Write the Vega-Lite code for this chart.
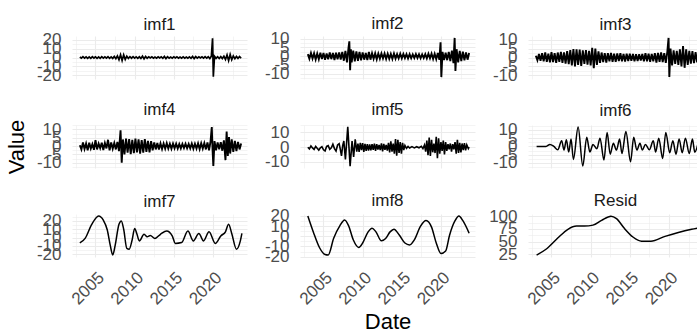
{
"$schema": "https://vega.github.io/schema/vega-lite/v6.json",
"padding": {"left": 5, "top": 14, "right": 0, "bottom": 0},
"bounds": "flush",
"columns": 3,
"spacing": {"row": 46, "column": 53},
"datasets": {"d": [
{"k":"imf1","t":2003.0,"v":0.6},{"k":"imf1","t":2003.2,"v":-0.8},{"k":"imf1","t":2003.4,"v":0.9},{"k":"imf1","t":2003.6,"v":-0.7},{"k":"imf1","t":2003.8,"v":0.8},{"k":"imf1","t":2004.0,"v":-1.0},{"k":"imf1","t":2004.2,"v":0.7},{"k":"imf1","t":2004.4,"v":-0.9},{"k":"imf1","t":2004.6,"v":1.0},{"k":"imf1","t":2004.8,"v":-0.6},{"k":"imf1","t":2005.0,"v":0.8},{"k":"imf1","t":2005.2,"v":-0.9},{"k":"imf1","t":2005.4,"v":0.7},{"k":"imf1","t":2005.6,"v":-1.0},{"k":"imf1","t":2005.8,"v":0.9},{"k":"imf1","t":2006.0,"v":-0.7},{"k":"imf1","t":2006.2,"v":0.8},{"k":"imf1","t":2006.4,"v":-0.8},{"k":"imf1","t":2006.6,"v":1.0},{"k":"imf1","t":2006.8,"v":-0.9},{"k":"imf1","t":2007.0,"v":0.7},{"k":"imf1","t":2007.2,"v":-1.0},{"k":"imf1","t":2007.4,"v":1.2},{"k":"imf1","t":2007.6,"v":-1.4},{"k":"imf1","t":2007.8,"v":1.8},{"k":"imf1","t":2008.0,"v":-2.5},{"k":"imf1","t":2008.2,"v":3.2},{"k":"imf1","t":2008.4,"v":-3.4},{"k":"imf1","t":2008.6,"v":3.0},{"k":"imf1","t":2008.8,"v":-2.2},{"k":"imf1","t":2009.0,"v":1.5},{"k":"imf1","t":2009.2,"v":-1.0},{"k":"imf1","t":2009.4,"v":0.9},{"k":"imf1","t":2009.6,"v":-0.8},{"k":"imf1","t":2009.8,"v":0.9},{"k":"imf1","t":2010.0,"v":-0.8},{"k":"imf1","t":2010.2,"v":0.7},{"k":"imf1","t":2010.4,"v":-0.9},{"k":"imf1","t":2010.6,"v":0.8},{"k":"imf1","t":2010.8,"v":-1.0},{"k":"imf1","t":2011.0,"v":1.5},{"k":"imf1","t":2011.2,"v":-1.6},{"k":"imf1","t":2011.4,"v":1.2},{"k":"imf1","t":2011.6,"v":-0.8},{"k":"imf1","t":2011.8,"v":0.7},{"k":"imf1","t":2012.0,"v":-0.6},{"k":"imf1","t":2012.2,"v":0.7},{"k":"imf1","t":2012.4,"v":-0.8},{"k":"imf1","t":2012.6,"v":0.6},{"k":"imf1","t":2012.8,"v":-0.7},{"k":"imf1","t":2013.0,"v":0.8},{"k":"imf1","t":2013.2,"v":-0.6},{"k":"imf1","t":2013.4,"v":0.7},{"k":"imf1","t":2013.6,"v":-0.9},{"k":"imf1","t":2013.8,"v":1.2},{"k":"imf1","t":2014.0,"v":-1.3},{"k":"imf1","t":2014.2,"v":0.9},{"k":"imf1","t":2014.4,"v":-0.7},{"k":"imf1","t":2014.6,"v":0.6},{"k":"imf1","t":2014.8,"v":-0.7},{"k":"imf1","t":2015.0,"v":0.8},{"k":"imf1","t":2015.2,"v":-0.6},{"k":"imf1","t":2015.4,"v":0.7},{"k":"imf1","t":2015.6,"v":-0.8},{"k":"imf1","t":2015.8,"v":0.6},{"k":"imf1","t":2016.0,"v":-0.7},{"k":"imf1","t":2016.2,"v":0.8},{"k":"imf1","t":2016.4,"v":-0.7},{"k":"imf1","t":2016.6,"v":0.6},{"k":"imf1","t":2016.8,"v":-0.8},{"k":"imf1","t":2017.0,"v":0.7},{"k":"imf1","t":2017.2,"v":-0.9},{"k":"imf1","t":2017.4,"v":1.2},{"k":"imf1","t":2017.6,"v":-1.3},{"k":"imf1","t":2017.8,"v":1.0},{"k":"imf1","t":2018.0,"v":-0.7},{"k":"imf1","t":2018.2,"v":0.8},{"k":"imf1","t":2018.4,"v":-0.6},{"k":"imf1","t":2018.6,"v":0.7},{"k":"imf1","t":2018.8,"v":-0.8},{"k":"imf1","t":2019.0,"v":0.9},{"k":"imf1","t":2019.2,"v":-0.7},{"k":"imf1","t":2019.4,"v":0.8},{"k":"imf1","t":2019.6,"v":-1.2},{"k":"imf1","t":2019.8,"v":1.5},{"k":"imf1","t":2019.95,"v":22},{"k":"imf1","t":2020.05,"v":-22},{"k":"imf1","t":2020.2,"v":1.4},{"k":"imf1","t":2020.4,"v":-1.0},{"k":"imf1","t":2020.6,"v":0.9},{"k":"imf1","t":2020.8,"v":-1.1},{"k":"imf1","t":2021.0,"v":1.0},{"k":"imf1","t":2021.2,"v":-1.2},{"k":"imf1","t":2021.4,"v":1.5},{"k":"imf1","t":2021.6,"v":-2.2},{"k":"imf1","t":2021.8,"v":3.0},{"k":"imf1","t":2022.0,"v":-3.6},{"k":"imf1","t":2022.2,"v":3.4},{"k":"imf1","t":2022.4,"v":-2.6},{"k":"imf1","t":2022.6,"v":1.8},{"k":"imf1","t":2022.8,"v":-1.3},{"k":"imf1","t":2023.0,"v":1.2},{"k":"imf1","t":2023.2,"v":-1.0},{"k":"imf1","t":2023.4,"v":1.1},{"k":"imf1","t":2023.6,"v":-0.9},
{"k":"imf2","t":2003.0,"v":1.2},{"k":"imf2","t":2003.2,"v":-1.5},{"k":"imf2","t":2003.4,"v":1.8},{"k":"imf2","t":2003.6,"v":-1.4},{"k":"imf2","t":2003.8,"v":1.6},{"k":"imf2","t":2004.0,"v":-1.9},{"k":"imf2","t":2004.2,"v":1.5},{"k":"imf2","t":2004.4,"v":-1.7},{"k":"imf2","t":2004.6,"v":2.0},{"k":"imf2","t":2004.8,"v":-1.6},{"k":"imf2","t":2005.0,"v":1.8},{"k":"imf2","t":2005.2,"v":-2.0},{"k":"imf2","t":2005.4,"v":1.6},{"k":"imf2","t":2005.6,"v":-1.8},{"k":"imf2","t":2005.8,"v":2.1},{"k":"imf2","t":2006.0,"v":-1.7},{"k":"imf2","t":2006.2,"v":1.9},{"k":"imf2","t":2006.4,"v":-2.2},{"k":"imf2","t":2006.6,"v":2.0},{"k":"imf2","t":2006.8,"v":-1.8},{"k":"imf2","t":2007.0,"v":2.2},{"k":"imf2","t":2007.2,"v":-2.0},{"k":"imf2","t":2007.4,"v":2.4},{"k":"imf2","t":2007.6,"v":-2.6},{"k":"imf2","t":2007.8,"v":3.0},{"k":"imf2","t":2008.0,"v":-3.5},{"k":"imf2","t":2008.2,"v":5.0},{"k":"imf2","t":2008.3,"v":8.5},{"k":"imf2","t":2008.4,"v":-8.0},{"k":"imf2","t":2008.5,"v":4.0},{"k":"imf2","t":2008.6,"v":-3.5},{"k":"imf2","t":2008.8,"v":3.2},{"k":"imf2","t":2009.0,"v":-3.0},{"k":"imf2","t":2009.2,"v":2.8},{"k":"imf2","t":2009.4,"v":-2.6},{"k":"imf2","t":2009.6,"v":2.5},{"k":"imf2","t":2009.8,"v":-2.4},{"k":"imf2","t":2010.0,"v":2.2},{"k":"imf2","t":2010.2,"v":-2.0},{"k":"imf2","t":2010.4,"v":1.8},{"k":"imf2","t":2010.6,"v":-2.2},{"k":"imf2","t":2010.8,"v":2.4},{"k":"imf2","t":2011.0,"v":-2.0},{"k":"imf2","t":2011.2,"v":1.7},{"k":"imf2","t":2011.4,"v":-1.5},{"k":"imf2","t":2011.6,"v":1.6},{"k":"imf2","t":2011.8,"v":-1.8},{"k":"imf2","t":2012.0,"v":1.5},{"k":"imf2","t":2012.2,"v":-1.4},{"k":"imf2","t":2012.4,"v":1.6},{"k":"imf2","t":2012.6,"v":-1.3},{"k":"imf2","t":2012.8,"v":1.5},{"k":"imf2","t":2013.0,"v":-1.6},{"k":"imf2","t":2013.2,"v":1.4},{"k":"imf2","t":2013.4,"v":-1.5},{"k":"imf2","t":2013.6,"v":1.3},{"k":"imf2","t":2013.8,"v":-1.6},{"k":"imf2","t":2014.0,"v":1.5},{"k":"imf2","t":2014.2,"v":-1.4},{"k":"imf2","t":2014.4,"v":1.2},{"k":"imf2","t":2014.6,"v":-1.3},{"k":"imf2","t":2014.8,"v":1.4},{"k":"imf2","t":2015.0,"v":-1.2},{"k":"imf2","t":2015.2,"v":1.3},{"k":"imf2","t":2015.4,"v":-1.1},{"k":"imf2","t":2015.6,"v":1.2},{"k":"imf2","t":2015.8,"v":-1.3},{"k":"imf2","t":2016.0,"v":1.1},{"k":"imf2","t":2016.2,"v":-1.2},{"k":"imf2","t":2016.4,"v":1.0},{"k":"imf2","t":2016.6,"v":-1.1},{"k":"imf2","t":2016.8,"v":1.2},{"k":"imf2","t":2017.0,"v":-1.0},{"k":"imf2","t":2017.2,"v":1.1},{"k":"imf2","t":2017.4,"v":-1.2},{"k":"imf2","t":2017.6,"v":1.0},{"k":"imf2","t":2017.8,"v":-1.1},{"k":"imf2","t":2018.0,"v":1.2},{"k":"imf2","t":2018.2,"v":-1.3},{"k":"imf2","t":2018.4,"v":1.4},{"k":"imf2","t":2018.6,"v":-1.2},{"k":"imf2","t":2018.8,"v":1.5},{"k":"imf2","t":2019.0,"v":-1.6},{"k":"imf2","t":2019.2,"v":1.4},{"k":"imf2","t":2019.4,"v":-1.7},{"k":"imf2","t":2019.6,"v":1.8},{"k":"imf2","t":2019.8,"v":-2.0},{"k":"imf2","t":2019.95,"v":8.0},{"k":"imf2","t":2020.05,"v":-12.0},{"k":"imf2","t":2020.2,"v":2.5},{"k":"imf2","t":2020.4,"v":-2.2},{"k":"imf2","t":2020.6,"v":2.0},{"k":"imf2","t":2020.8,"v":-2.3},{"k":"imf2","t":2021.0,"v":2.5},{"k":"imf2","t":2021.2,"v":-2.8},{"k":"imf2","t":2021.4,"v":3.2},{"k":"imf2","t":2021.6,"v":-4.0},{"k":"imf2","t":2021.75,"v":10.5},{"k":"imf2","t":2021.85,"v":-8.5},{"k":"imf2","t":2022.0,"v":4.0},{"k":"imf2","t":2022.2,"v":-3.5},{"k":"imf2","t":2022.4,"v":3.0},{"k":"imf2","t":2022.6,"v":-2.8},{"k":"imf2","t":2022.8,"v":2.6},{"k":"imf2","t":2023.0,"v":-2.4},{"k":"imf2","t":2023.2,"v":2.2},{"k":"imf2","t":2023.4,"v":-2.0},{"k":"imf2","t":2023.6,"v":1.8},
{"k":"imf3","t":2003.0,"v":1.0},{"k":"imf3","t":2003.2,"v":-1.5},{"k":"imf3","t":2003.4,"v":2.0},{"k":"imf3","t":2003.6,"v":-1.8},{"k":"imf3","t":2003.8,"v":2.4},{"k":"imf3","t":2004.0,"v":-2.2},{"k":"imf3","t":2004.2,"v":2.8},{"k":"imf3","t":2004.4,"v":-2.5},{"k":"imf3","t":2004.6,"v":2.2},{"k":"imf3","t":2004.8,"v":-2.7},{"k":"imf3","t":2005.0,"v":3.0},{"k":"imf3","t":2005.2,"v":-2.6},{"k":"imf3","t":2005.4,"v":2.4},{"k":"imf3","t":2005.6,"v":-3.0},{"k":"imf3","t":2005.8,"v":2.8},{"k":"imf3","t":2006.0,"v":-2.5},{"k":"imf3","t":2006.2,"v":3.2},{"k":"imf3","t":2006.4,"v":-3.0},{"k":"imf3","t":2006.6,"v":2.9},{"k":"imf3","t":2006.8,"v":-3.4},{"k":"imf3","t":2007.0,"v":3.6},{"k":"imf3","t":2007.2,"v":-3.8},{"k":"imf3","t":2007.4,"v":4.2},{"k":"imf3","t":2007.6,"v":-4.5},{"k":"imf3","t":2007.8,"v":4.8},{"k":"imf3","t":2008.0,"v":-5.0},{"k":"imf3","t":2008.2,"v":4.6},{"k":"imf3","t":2008.4,"v":-4.2},{"k":"imf3","t":2008.6,"v":4.5},{"k":"imf3","t":2008.8,"v":-4.8},{"k":"imf3","t":2009.0,"v":4.0},{"k":"imf3","t":2009.2,"v":-3.6},{"k":"imf3","t":2009.4,"v":4.2},{"k":"imf3","t":2009.6,"v":-4.0},{"k":"imf3","t":2009.8,"v":3.8},{"k":"imf3","t":2010.0,"v":-4.4},{"k":"imf3","t":2010.2,"v":5.5},{"k":"imf3","t":2010.4,"v":-6.0},{"k":"imf3","t":2010.6,"v":5.0},{"k":"imf3","t":2010.8,"v":-4.2},{"k":"imf3","t":2011.0,"v":3.5},{"k":"imf3","t":2011.2,"v":-3.0},{"k":"imf3","t":2011.4,"v":2.8},{"k":"imf3","t":2011.6,"v":-2.6},{"k":"imf3","t":2011.8,"v":2.5},{"k":"imf3","t":2012.0,"v":-2.8},{"k":"imf3","t":2012.2,"v":2.4},{"k":"imf3","t":2012.4,"v":-2.2},{"k":"imf3","t":2012.6,"v":2.6},{"k":"imf3","t":2012.8,"v":-2.4},{"k":"imf3","t":2013.0,"v":2.2},{"k":"imf3","t":2013.2,"v":-2.5},{"k":"imf3","t":2013.4,"v":2.3},{"k":"imf3","t":2013.6,"v":-2.0},{"k":"imf3","t":2013.8,"v":2.4},{"k":"imf3","t":2014.0,"v":-2.2},{"k":"imf3","t":2014.2,"v":2.0},{"k":"imf3","t":2014.4,"v":-2.3},{"k":"imf3","t":2014.6,"v":2.1},{"k":"imf3","t":2014.8,"v":-2.0},{"k":"imf3","t":2015.0,"v":2.2},{"k":"imf3","t":2015.2,"v":-1.9},{"k":"imf3","t":2015.4,"v":2.0},{"k":"imf3","t":2015.6,"v":-2.1},{"k":"imf3","t":2015.8,"v":1.8},{"k":"imf3","t":2016.0,"v":-2.0},{"k":"imf3","t":2016.2,"v":1.9},{"k":"imf3","t":2016.4,"v":-1.7},{"k":"imf3","t":2016.6,"v":2.0},{"k":"imf3","t":2016.8,"v":-2.2},{"k":"imf3","t":2017.0,"v":2.4},{"k":"imf3","t":2017.2,"v":-2.1},{"k":"imf3","t":2017.4,"v":2.2},{"k":"imf3","t":2017.6,"v":-2.4},{"k":"imf3","t":2017.8,"v":2.0},{"k":"imf3","t":2018.0,"v":-2.2},{"k":"imf3","t":2018.2,"v":2.5},{"k":"imf3","t":2018.4,"v":-2.8},{"k":"imf3","t":2018.6,"v":2.6},{"k":"imf3","t":2018.8,"v":-2.4},{"k":"imf3","t":2019.0,"v":2.8},{"k":"imf3","t":2019.2,"v":-2.6},{"k":"imf3","t":2019.4,"v":2.4},{"k":"imf3","t":2019.6,"v":-3.0},{"k":"imf3","t":2019.8,"v":3.5},{"k":"imf3","t":2019.95,"v":11.0},{"k":"imf3","t":2020.05,"v":-11.0},{"k":"imf3","t":2020.2,"v":5.0},{"k":"imf3","t":2020.4,"v":-4.5},{"k":"imf3","t":2020.6,"v":4.0},{"k":"imf3","t":2020.8,"v":-3.6},{"k":"imf3","t":2021.0,"v":3.8},{"k":"imf3","t":2021.2,"v":-4.2},{"k":"imf3","t":2021.4,"v":4.6},{"k":"imf3","t":2021.6,"v":-5.0},{"k":"imf3","t":2021.8,"v":6.5},{"k":"imf3","t":2022.0,"v":-5.8},{"k":"imf3","t":2022.2,"v":4.6},{"k":"imf3","t":2022.4,"v":-4.2},{"k":"imf3","t":2022.6,"v":3.8},{"k":"imf3","t":2022.8,"v":-3.5},{"k":"imf3","t":2023.0,"v":3.6},{"k":"imf3","t":2023.2,"v":-3.2},{"k":"imf3","t":2023.4,"v":3.0},{"k":"imf3","t":2023.6,"v":-2.8},
{"k":"imf4","t":2003.0,"v":0.5},{"k":"imf4","t":2003.2,"v":-2.0},{"k":"imf4","t":2003.4,"v":2.2},{"k":"imf4","t":2003.6,"v":-1.8},{"k":"imf4","t":2003.8,"v":1.5},{"k":"imf4","t":2004.0,"v":-2.5},{"k":"imf4","t":2004.2,"v":2.0},{"k":"imf4","t":2004.4,"v":-1.5},{"k":"imf4","t":2004.6,"v":1.2},{"k":"imf4","t":2004.8,"v":-2.2},{"k":"imf4","t":2005.0,"v":3.5},{"k":"imf4","t":2005.2,"v":-2.0},{"k":"imf4","t":2005.4,"v":1.5},{"k":"imf4","t":2005.6,"v":-1.2},{"k":"imf4","t":2005.8,"v":2.0},{"k":"imf4","t":2006.0,"v":-2.4},{"k":"imf4","t":2006.2,"v":1.8},{"k":"imf4","t":2006.4,"v":-1.4},{"k":"imf4","t":2006.6,"v":3.8},{"k":"imf4","t":2006.8,"v":-2.6},{"k":"imf4","t":2007.0,"v":2.2},{"k":"imf4","t":2007.2,"v":-1.6},{"k":"imf4","t":2007.4,"v":1.8},{"k":"imf4","t":2007.6,"v":-2.0},{"k":"imf4","t":2007.8,"v":2.5},{"k":"imf4","t":2008.0,"v":-3.0},{"k":"imf4","t":2008.2,"v":9.5},{"k":"imf4","t":2008.35,"v":-10.0},{"k":"imf4","t":2008.5,"v":4.0},{"k":"imf4","t":2008.7,"v":-5.0},{"k":"imf4","t":2008.9,"v":4.5},{"k":"imf4","t":2009.1,"v":-4.0},{"k":"imf4","t":2009.3,"v":4.2},{"k":"imf4","t":2009.5,"v":-4.8},{"k":"imf4","t":2009.7,"v":3.8},{"k":"imf4","t":2009.9,"v":-4.2},{"k":"imf4","t":2010.1,"v":4.5},{"k":"imf4","t":2010.3,"v":-3.8},{"k":"imf4","t":2010.5,"v":4.0},{"k":"imf4","t":2010.7,"v":-4.6},{"k":"imf4","t":2010.9,"v":3.6},{"k":"imf4","t":2011.1,"v":-4.0},{"k":"imf4","t":2011.3,"v":4.2},{"k":"imf4","t":2011.5,"v":-3.5},{"k":"imf4","t":2011.7,"v":3.2},{"k":"imf4","t":2011.9,"v":-3.8},{"k":"imf4","t":2012.1,"v":3.0},{"k":"imf4","t":2012.3,"v":-2.6},{"k":"imf4","t":2012.5,"v":2.2},{"k":"imf4","t":2012.7,"v":-2.0},{"k":"imf4","t":2012.9,"v":1.8},{"k":"imf4","t":2013.1,"v":-2.0},{"k":"imf4","t":2013.3,"v":1.6},{"k":"imf4","t":2013.5,"v":-1.8},{"k":"imf4","t":2013.7,"v":1.5},{"k":"imf4","t":2013.9,"v":-1.6},{"k":"imf4","t":2014.1,"v":1.7},{"k":"imf4","t":2014.3,"v":-1.5},{"k":"imf4","t":2014.5,"v":1.4},{"k":"imf4","t":2014.7,"v":-1.6},{"k":"imf4","t":2014.9,"v":1.5},{"k":"imf4","t":2015.1,"v":-1.3},{"k":"imf4","t":2015.3,"v":1.4},{"k":"imf4","t":2015.5,"v":-1.5},{"k":"imf4","t":2015.7,"v":1.2},{"k":"imf4","t":2015.9,"v":-1.4},{"k":"imf4","t":2016.1,"v":1.3},{"k":"imf4","t":2016.3,"v":-1.2},{"k":"imf4","t":2016.5,"v":1.4},{"k":"imf4","t":2016.7,"v":-1.3},{"k":"imf4","t":2016.9,"v":1.2},{"k":"imf4","t":2017.1,"v":-1.4},{"k":"imf4","t":2017.3,"v":1.5},{"k":"imf4","t":2017.5,"v":-1.6},{"k":"imf4","t":2017.7,"v":1.4},{"k":"imf4","t":2017.9,"v":-1.5},{"k":"imf4","t":2018.1,"v":1.6},{"k":"imf4","t":2018.3,"v":-1.8},{"k":"imf4","t":2018.5,"v":1.7},{"k":"imf4","t":2018.7,"v":-1.5},{"k":"imf4","t":2018.9,"v":1.8},{"k":"imf4","t":2019.1,"v":-2.0},{"k":"imf4","t":2019.3,"v":2.2},{"k":"imf4","t":2019.5,"v":-2.5},{"k":"imf4","t":2019.7,"v":3.0},{"k":"imf4","t":2019.85,"v":11.5},{"k":"imf4","t":2019.95,"v":-2.0},{"k":"imf4","t":2020.05,"v":-12.0},{"k":"imf4","t":2020.2,"v":3.0},{"k":"imf4","t":2020.4,"v":-2.5},{"k":"imf4","t":2020.6,"v":2.2},{"k":"imf4","t":2020.8,"v":-2.0},{"k":"imf4","t":2021.0,"v":2.4},{"k":"imf4","t":2021.2,"v":-2.8},{"k":"imf4","t":2021.4,"v":3.5},{"k":"imf4","t":2021.6,"v":-8.5},{"k":"imf4","t":2021.75,"v":8.8},{"k":"imf4","t":2021.9,"v":-6.0},{"k":"imf4","t":2022.05,"v":5.5},{"k":"imf4","t":2022.2,"v":-4.5},{"k":"imf4","t":2022.4,"v":4.0},{"k":"imf4","t":2022.6,"v":-3.5},{"k":"imf4","t":2022.8,"v":3.2},{"k":"imf4","t":2023.0,"v":-3.0},{"k":"imf4","t":2023.2,"v":2.5},{"k":"imf4","t":2023.4,"v":-2.0},{"k":"imf4","t":2023.6,"v":1.5},
{"k":"imf5","t":2003.0,"v":0.0},{"k":"imf5","t":2003.2,"v":-1.2},{"k":"imf5","t":2003.4,"v":0.8},{"k":"imf5","t":2003.6,"v":-0.5},{"k":"imf5","t":2003.8,"v":-1.5},{"k":"imf5","t":2004.0,"v":0.5},{"k":"imf5","t":2004.2,"v":-0.8},{"k":"imf5","t":2004.4,"v":-2.0},{"k":"imf5","t":2004.6,"v":-0.5},{"k":"imf5","t":2004.8,"v":0.3},{"k":"imf5","t":2005.0,"v":-1.8},{"k":"imf5","t":2005.2,"v":-2.6},{"k":"imf5","t":2005.4,"v":0.5},{"k":"imf5","t":2005.6,"v":1.0},{"k":"imf5","t":2005.8,"v":-1.5},{"k":"imf5","t":2006.0,"v":-0.5},{"k":"imf5","t":2006.2,"v":2.0},{"k":"imf5","t":2006.4,"v":-1.0},{"k":"imf5","t":2006.6,"v":-2.6},{"k":"imf5","t":2006.8,"v":1.5},{"k":"imf5","t":2007.0,"v":2.4},{"k":"imf5","t":2007.15,"v":-1.5},{"k":"imf5","t":2007.3,"v":-6.0},{"k":"imf5","t":2007.45,"v":1.0},{"k":"imf5","t":2007.6,"v":4.2},{"k":"imf5","t":2007.8,"v":-8.3},{"k":"imf5","t":2008.1,"v":13.8},{"k":"imf5","t":2008.4,"v":-12.9},{"k":"imf5","t":2008.65,"v":4.2},{"k":"imf5","t":2008.85,"v":-6.7},{"k":"imf5","t":2009.05,"v":5.4},{"k":"imf5","t":2009.25,"v":-3.0},{"k":"imf5","t":2009.4,"v":2.5},{"k":"imf5","t":2009.55,"v":-3.2},{"k":"imf5","t":2009.7,"v":3.0},{"k":"imf5","t":2009.85,"v":-2.0},{"k":"imf5","t":2010.0,"v":2.8},{"k":"imf5","t":2010.15,"v":-3.2},{"k":"imf5","t":2010.3,"v":2.2},{"k":"imf5","t":2010.45,"v":-2.6},{"k":"imf5","t":2010.6,"v":2.0},{"k":"imf5","t":2010.75,"v":-2.4},{"k":"imf5","t":2010.9,"v":1.8},{"k":"imf5","t":2011.05,"v":-2.2},{"k":"imf5","t":2011.2,"v":2.0},{"k":"imf5","t":2011.35,"v":-1.8},{"k":"imf5","t":2011.5,"v":2.4},{"k":"imf5","t":2011.65,"v":-2.6},{"k":"imf5","t":2011.8,"v":2.0},{"k":"imf5","t":2011.95,"v":-1.6},{"k":"imf5","t":2012.1,"v":1.5},{"k":"imf5","t":2012.25,"v":-2.0},{"k":"imf5","t":2012.4,"v":2.6},{"k":"imf5","t":2012.55,"v":-2.8},{"k":"imf5","t":2012.7,"v":2.2},{"k":"imf5","t":2012.85,"v":-1.8},{"k":"imf5","t":2013.0,"v":1.6},{"k":"imf5","t":2013.15,"v":-2.4},{"k":"imf5","t":2013.3,"v":3.0},{"k":"imf5","t":2013.45,"v":-3.5},{"k":"imf5","t":2013.6,"v":4.0},{"k":"imf5","t":2013.75,"v":-3.0},{"k":"imf5","t":2013.9,"v":2.5},{"k":"imf5","t":2014.05,"v":-4.5},{"k":"imf5","t":2014.2,"v":5.5},{"k":"imf5","t":2014.35,"v":-5.8},{"k":"imf5","t":2014.5,"v":5.0},{"k":"imf5","t":2014.65,"v":-4.0},{"k":"imf5","t":2014.8,"v":3.5},{"k":"imf5","t":2014.95,"v":-4.5},{"k":"imf5","t":2015.1,"v":3.0},{"k":"imf5","t":2015.25,"v":-2.0},{"k":"imf5","t":2015.4,"v":1.2},{"k":"imf5","t":2015.6,"v":-0.8},{"k":"imf5","t":2015.8,"v":0.5},{"k":"imf5","t":2016.0,"v":-0.6},{"k":"imf5","t":2016.3,"v":0.4},{"k":"imf5","t":2016.6,"v":-0.5},{"k":"imf5","t":2016.9,"v":0.3},{"k":"imf5","t":2017.2,"v":-0.4},{"k":"imf5","t":2017.5,"v":0.6},{"k":"imf5","t":2017.7,"v":-1.0},{"k":"imf5","t":2017.9,"v":1.5},{"k":"imf5","t":2018.05,"v":-3.0},{"k":"imf5","t":2018.2,"v":4.5},{"k":"imf5","t":2018.35,"v":-5.5},{"k":"imf5","t":2018.5,"v":6.5},{"k":"imf5","t":2018.65,"v":-6.0},{"k":"imf5","t":2018.8,"v":5.0},{"k":"imf5","t":2018.95,"v":-3.5},{"k":"imf5","t":2019.1,"v":2.5},{"k":"imf5","t":2019.25,"v":-4.0},{"k":"imf5","t":2019.4,"v":7.0},{"k":"imf5","t":2019.55,"v":-7.5},{"k":"imf5","t":2019.7,"v":6.0},{"k":"imf5","t":2019.85,"v":-4.5},{"k":"imf5","t":2020.0,"v":3.5},{"k":"imf5","t":2020.15,"v":-2.5},{"k":"imf5","t":2020.3,"v":4.5},{"k":"imf5","t":2020.45,"v":-5.0},{"k":"imf5","t":2020.6,"v":3.5},{"k":"imf5","t":2020.75,"v":-2.5},{"k":"imf5","t":2020.9,"v":2.0},{"k":"imf5","t":2021.05,"v":-1.5},{"k":"imf5","t":2021.2,"v":2.5},{"k":"imf5","t":2021.35,"v":-3.0},{"k":"imf5","t":2021.5,"v":2.0},{"k":"imf5","t":2021.65,"v":-1.5},{"k":"imf5","t":2021.8,"v":3.5},{"k":"imf5","t":2021.95,"v":-4.5},{"k":"imf5","t":2022.1,"v":5.0},{"k":"imf5","t":2022.25,"v":-4.0},{"k":"imf5","t":2022.4,"v":3.0},{"k":"imf5","t":2022.55,"v":-3.5},{"k":"imf5","t":2022.7,"v":2.5},{"k":"imf5","t":2022.85,"v":-2.0},{"k":"imf5","t":2023.0,"v":2.8},{"k":"imf5","t":2023.15,"v":-2.2},{"k":"imf5","t":2023.3,"v":1.5},{"k":"imf5","t":2023.5,"v":-1.0},{"k":"imf5","t":2023.6,"v":0.0},
{"k":"imf6","t":2003.1,"v":0},{"k":"imf6","t":2004.3,"v":0},{"k":"imf6","t":2004.8,"v":1.2},{"k":"imf6","t":2005.3,"v":0},{"k":"imf6","t":2005.8,"v":-2},{"k":"imf6","t":2006.3,"v":3.5},{"k":"imf6","t":2006.6,"v":-2.2},{"k":"imf6","t":2006.9,"v":4},{"k":"imf6","t":2007.2,"v":-3.4},{"k":"imf6","t":2007.5,"v":4.5},{"k":"imf6","t":2007.8,"v":-7.9},{"k":"imf6","t":2008.4,"v":11.8},{"k":"imf6","t":2009.0,"v":-11.9},{"k":"imf6","t":2009.5,"v":5.5},{"k":"imf6","t":2009.9,"v":-3.4},{"k":"imf6","t":2010.3,"v":1.2},{"k":"imf6","t":2010.8,"v":-1.4},{"k":"imf6","t":2011.2,"v":5},{"k":"imf6","t":2011.7,"v":-8.3},{"k":"imf6","t":2012.1,"v":8.5},{"k":"imf6","t":2012.5,"v":-4.7},{"k":"imf6","t":2012.9,"v":1.9},{"k":"imf6","t":2013.3,"v":-2.2},{"k":"imf6","t":2013.7,"v":4.5},{"k":"imf6","t":2014.0,"v":-4.3},{"k":"imf6","t":2014.5,"v":9},{"k":"imf6","t":2015.1,"v":-9.3},{"k":"imf6","t":2015.5,"v":5.5},{"k":"imf6","t":2015.9,"v":-2.2},{"k":"imf6","t":2016.3,"v":1.9},{"k":"imf6","t":2016.6,"v":-2.2},{"k":"imf6","t":2017.0,"v":1.2},{"k":"imf6","t":2017.5,"v":-2},{"k":"imf6","t":2018.0,"v":3.5},{"k":"imf6","t":2018.3,"v":-3.4},{"k":"imf6","t":2018.7,"v":5},{"k":"imf6","t":2019.2,"v":-7.3},{"k":"imf6","t":2019.6,"v":8.5},{"k":"imf6","t":2020.1,"v":-3.9},{"k":"imf6","t":2020.5,"v":3.5},{"k":"imf6","t":2020.9,"v":-4.7},{"k":"imf6","t":2021.3,"v":4.5},{"k":"imf6","t":2021.7,"v":-3.9},{"k":"imf6","t":2022.1,"v":5},{"k":"imf6","t":2022.6,"v":-4.3},{"k":"imf6","t":2023.0,"v":4.5},{"k":"imf6","t":2023.3,"v":-3.5},{"k":"imf6","t":2023.7,"v":1.5},
{"k":"imf7","t":2003.0,"v":-6.5},{"k":"imf7","t":2003.7,"v":-0.6},{"k":"imf7","t":2004.5,"v":15.5},{"k":"imf7","t":2005.4,"v":26},{"k":"imf7","t":2006.0,"v":21},{"k":"imf7","t":2006.5,"v":9.4},{"k":"imf7","t":2006.9,"v":-10},{"k":"imf7","t":2007.2,"v":-21},{"k":"imf7","t":2007.5,"v":-10},{"k":"imf7","t":2008.0,"v":16},{"k":"imf7","t":2008.3,"v":20},{"k":"imf7","t":2008.6,"v":10},{"k":"imf7","t":2009.0,"v":-13},{"k":"imf7","t":2009.3,"v":-14},{"k":"imf7","t":2009.7,"v":-2},{"k":"imf7","t":2010.0,"v":11},{"k":"imf7","t":2010.3,"v":4},{"k":"imf7","t":2010.6,"v":-4},{"k":"imf7","t":2011.2,"v":4},{"k":"imf7","t":2011.6,"v":1},{"k":"imf7","t":2012.0,"v":2.5},{"k":"imf7","t":2012.6,"v":-1},{"k":"imf7","t":2013.3,"v":4},{"k":"imf7","t":2014.1,"v":8},{"k":"imf7","t":2014.8,"v":2},{"k":"imf7","t":2015.2,"v":-7},{"k":"imf7","t":2016.0,"v":-6},{"k":"imf7","t":2016.8,"v":8},{"k":"imf7","t":2017.5,"v":-4},{"k":"imf7","t":2018.2,"v":5},{"k":"imf7","t":2018.8,"v":-4},{"k":"imf7","t":2019.5,"v":7},{"k":"imf7","t":2020.3,"v":-7},{"k":"imf7","t":2021.0,"v":2},{"k":"imf7","t":2021.6,"v":7},{"k":"imf7","t":2022.0,"v":16},{"k":"imf7","t":2022.4,"v":5},{"k":"imf7","t":2023.0,"v":-14},{"k":"imf7","t":2023.5,"v":-4},{"k":"imf7","t":2023.7,"v":5},
{"k":"imf8","t":2003.0,"v":20},{"k":"imf8","t":2003.7,"v":4.3},{"k":"imf8","t":2004.5,"v":-11.3},{"k":"imf8","t":2005.2,"v":-18},{"k":"imf8","t":2005.6,"v":-18.5},{"k":"imf8","t":2006.3,"v":-2},{"k":"imf8","t":2007.1,"v":10.5},{"k":"imf8","t":2007.7,"v":16},{"k":"imf8","t":2008.2,"v":10.5},{"k":"imf8","t":2008.8,"v":-3.5},{"k":"imf8","t":2009.5,"v":-11},{"k":"imf8","t":2010.0,"v":-6.6},{"k":"imf8","t":2010.7,"v":4.3},{"k":"imf8","t":2011.2,"v":8},{"k":"imf8","t":2011.7,"v":4.3},{"k":"imf8","t":2012.4,"v":-4.5},{"k":"imf8","t":2012.9,"v":-2.5},{"k":"imf8","t":2013.5,"v":4.3},{"k":"imf8","t":2014.0,"v":7},{"k":"imf8","t":2014.7,"v":1},{"k":"imf8","t":2015.4,"v":-6.6},{"k":"imf8","t":2016.0,"v":-8.5},{"k":"imf8","t":2016.6,"v":-3.5},{"k":"imf8","t":2017.4,"v":10},{"k":"imf8","t":2018.1,"v":15.5},{"k":"imf8","t":2018.8,"v":9},{"k":"imf8","t":2019.4,"v":-6.6},{"k":"imf8","t":2020.0,"v":-17},{"k":"imf8","t":2020.6,"v":-14.5},{"k":"imf8","t":2021.1,"v":1},{"k":"imf8","t":2021.8,"v":15.3},{"k":"imf8","t":2022.3,"v":20},{"k":"imf8","t":2022.8,"v":15.3},{"k":"imf8","t":2023.6,"v":3},
{"k":"Resid","t":2003.1,"v":23},{"k":"Resid","t":2004.3,"v":34.6},{"k":"Resid","t":2005.8,"v":57},{"k":"Resid","t":2007.1,"v":74.4},{"k":"Resid","t":2008.2,"v":80.8},{"k":"Resid","t":2009.2,"v":80.8},{"k":"Resid","t":2010.3,"v":82.7},{"k":"Resid","t":2011.4,"v":92.3},{"k":"Resid","t":2012.6,"v":100.5},{"k":"Resid","t":2013.3,"v":95.5},{"k":"Resid","t":2014.3,"v":76.3},{"k":"Resid","t":2015.4,"v":59},{"k":"Resid","t":2016.5,"v":50.6},{"k":"Resid","t":2017.7,"v":50.6},{"k":"Resid","t":2019.5,"v":60.3},{"k":"Resid","t":2021.2,"v":68},{"k":"Resid","t":2022.9,"v":74.4},{"k":"Resid","t":2023.7,"v":77}
]},
"data": {"name": "d"},
"config": {
  "view": {"stroke": null},
  "title": {"font": "Liberation Sans", "fontSize": 17, "fontWeight": "normal", "color": "#1a1a1a", "anchor": "middle", "frame": "group", "baseline": "alphabetic", "offset": -3},
  "axis": {"domain": false, "ticks": false, "gridColor": "#ebebeb", "labelFont": "Liberation Sans", "labelFontSize": 17, "labelColor": "#4d4d4d", "labelOverlap": false, "labelFlush": false, "labelBound": false, "titleFont": "Liberation Sans", "titleFontSize": 22, "titleFontWeight": "normal", "titleColor": "#000000"},
  "axisY": {"labelPadding": 11, "titlePadding": 8},
  "axisX": {"labelPadding": 12, "labelAngle": -45, "labelAlign": "right", "labelBaseline": "top", "titlePadding": 4},
  "line": {"color": "#000000", "strokeWidth": 1.5}
},
"concat": [
  {"title": "imf1", "width": 175, "height": 43, "transform": [{"filter": "datum.k == 'imf1'"}], "mark": {"type": "line", "strokeWidth": 1.7},
   "encoding": {
    "x": {"field": "t", "type": "quantitative", "scale": {"domain": [2002, 2024.35], "nice": false, "zero": false}, "axis": {"values": [2002.5,2005,2007.5,2010,2012.5,2015,2017.5,2020,2022.5], "labels": false, "title": null, "gridWidth": {"condition": {"test": "datum.value % 5 == 0", "value": 1.1}, "value": 0.55}}},
    "y": {"field": "v", "type": "quantitative", "scale": {"domain": [-24.5, 24.5], "nice": false, "zero": false}, "axis": {"values": [-20,-15,-10,-5,0,5,10,15,20], "labelExpr": "datum.value % 10 == 0 ? '' + datum.value : ''", "title": null, "gridWidth": {"condition": {"test": "datum.value % 10 == 0", "value": 1.1}, "value": 0.55}}}}},
  {"title": "imf2", "width": 175, "height": 43, "transform": [{"filter": "datum.k == 'imf2'"}], "mark": {"type": "line", "strokeWidth": 1.9},
   "encoding": {
    "x": {"field": "t", "type": "quantitative", "scale": {"domain": [2002, 2024.35], "nice": false, "zero": false}, "axis": {"values": [2002.5,2005,2007.5,2010,2012.5,2015,2017.5,2020,2022.5], "labels": false, "title": null, "gridWidth": {"condition": {"test": "datum.value % 5 == 0", "value": 1.1}, "value": 0.55}}},
    "y": {"field": "v", "type": "quantitative", "scale": {"domain": [-13.1, 11.6], "nice": false, "zero": false}, "axis": {"values": [-12.5,-10,-7.5,-5,-2.5,0,2.5,5,7.5,10], "labelExpr": "datum.value % 5 == 0 ? '' + datum.value : ''", "title": null, "gridWidth": {"condition": {"test": "datum.value % 5 == 0", "value": 1.1}, "value": 0.55}}}}},
  {"title": "imf3", "width": 175, "height": 43, "transform": [{"filter": "datum.k == 'imf3'"}], "mark": {"type": "line", "strokeWidth": 1.9},
   "encoding": {
    "x": {"field": "t", "type": "quantitative", "scale": {"domain": [2002, 2024.35], "nice": false, "zero": false}, "axis": {"values": [2002.5,2005,2007.5,2010,2012.5,2015,2017.5,2020,2022.5], "labels": false, "title": null, "gridWidth": {"condition": {"test": "datum.value % 5 == 0", "value": 1.1}, "value": 0.55}}},
    "y": {"field": "v", "type": "quantitative", "scale": {"domain": [-12.1, 12.1], "nice": false, "zero": false}, "axis": {"values": [-10,-7.5,-5,-2.5,0,2.5,5,7.5,10], "labelExpr": "datum.value % 5 == 0 ? '' + datum.value : ''", "title": null, "gridWidth": {"condition": {"test": "datum.value % 5 == 0", "value": 1.1}, "value": 0.55}}}}},
  {"title": "imf4", "width": 175, "height": 43, "transform": [{"filter": "datum.k == 'imf4'"}], "mark": {"type": "line", "strokeWidth": 1.9},
   "encoding": {
    "x": {"field": "t", "type": "quantitative", "scale": {"domain": [2002, 2024.35], "nice": false, "zero": false}, "axis": {"values": [2002.5,2005,2007.5,2010,2012.5,2015,2017.5,2020,2022.5], "labels": false, "title": null, "gridWidth": {"condition": {"test": "datum.value % 5 == 0", "value": 1.1}, "value": 0.55}}},
    "y": {"field": "v", "type": "quantitative", "scale": {"domain": [-13.2, 12.7], "nice": false, "zero": false}, "axis": {"values": [-12.5,-10,-7.5,-5,-2.5,0,2.5,5,7.5,10,12.5], "labelExpr": "datum.value % 5 == 0 ? '' + datum.value : ''", "title": "Value", "gridWidth": {"condition": {"test": "datum.value % 5 == 0", "value": 1.1}, "value": 0.55}}}}},
  {"title": "imf5", "width": 175, "height": 43, "transform": [{"filter": "datum.k == 'imf5'"}], "mark": {"type": "line", "strokeWidth": 1.6},
   "encoding": {
    "x": {"field": "t", "type": "quantitative", "scale": {"domain": [2002, 2024.35], "nice": false, "zero": false}, "axis": {"values": [2002.5,2005,2007.5,2010,2012.5,2015,2017.5,2020,2022.5], "labels": false, "title": null, "gridWidth": {"condition": {"test": "datum.value % 5 == 0", "value": 1.1}, "value": 0.55}}},
    "y": {"field": "v", "type": "quantitative", "scale": {"domain": [-14.2, 15.1], "nice": false, "zero": false}, "axis": {"values": [-10,-5,0,5,10,15], "labelExpr": "datum.value % 10 == 0 ? '' + datum.value : ''", "title": null, "gridWidth": {"condition": {"test": "datum.value % 10 == 0", "value": 1.1}, "value": 0.55}}}}},
  {"title": "imf6", "width": 175, "height": 43, "transform": [{"filter": "datum.k == 'imf6'"}], "mark": {"type": "line", "interpolate": "monotone"},
   "encoding": {
    "x": {"field": "t", "type": "quantitative", "scale": {"domain": [2002, 2024.35], "nice": false, "zero": false}, "axis": {"values": [2002.5,2005,2007.5,2010,2012.5,2015,2017.5,2020,2022.5], "labels": false, "title": null, "gridWidth": {"condition": {"test": "datum.value % 5 == 0", "value": 1.1}, "value": 0.55}}},
    "y": {"field": "v", "type": "quantitative", "scale": {"domain": [-13.1, 13.0], "nice": false, "zero": false}, "axis": {"values": [-12.5,-10,-7.5,-5,-2.5,0,2.5,5,7.5,10,12.5], "labelExpr": "datum.value % 5 == 0 ? '' + datum.value : ''", "title": null, "gridWidth": {"condition": {"test": "datum.value % 5 == 0", "value": 1.1}, "value": 0.55}}}}},
  {"title": "imf7", "width": 175, "height": 43, "transform": [{"filter": "datum.k == 'imf7'"}], "mark": {"type": "line", "interpolate": "monotone"},
   "encoding": {
    "x": {"field": "t", "type": "quantitative", "scale": {"domain": [2002, 2024.35], "nice": false, "zero": false}, "axis": {"values": [2002.5,2005,2007.5,2010,2012.5,2015,2017.5,2020,2022.5], "labelExpr": "datum.value % 5 == 0 ? '' + datum.value : ''", "title": null, "gridWidth": {"condition": {"test": "datum.value % 5 == 0", "value": 1.1}, "value": 0.55}}},
    "y": {"field": "v", "type": "quantitative", "scale": {"domain": [-23.4, 28.4], "nice": false, "zero": false}, "axis": {"values": [-20,-15,-10,-5,0,5,10,15,20,25], "labelExpr": "datum.value % 10 == 0 ? '' + datum.value : ''", "title": null, "gridWidth": {"condition": {"test": "datum.value % 10 == 0", "value": 1.1}, "value": 0.55}}}}},
  {"title": "imf8", "width": 175, "height": 43, "transform": [{"filter": "datum.k == 'imf8'"}], "mark": {"type": "line", "interpolate": "monotone"},
   "encoding": {
    "x": {"field": "t", "type": "quantitative", "scale": {"domain": [2002, 2024.35], "nice": false, "zero": false}, "axis": {"values": [2002.5,2005,2007.5,2010,2012.5,2015,2017.5,2020,2022.5], "labelExpr": "datum.value % 5 == 0 ? '' + datum.value : ''", "title": "Date", "gridWidth": {"condition": {"test": "datum.value % 5 == 0", "value": 1.1}, "value": 0.55}}},
    "y": {"field": "v", "type": "quantitative", "scale": {"domain": [-20.4, 21.9], "nice": false, "zero": false}, "axis": {"values": [-20,-15,-10,-5,0,5,10,15,20], "labelExpr": "datum.value % 10 == 0 ? '' + datum.value : ''", "title": null, "gridWidth": {"condition": {"test": "datum.value % 10 == 0", "value": 1.1}, "value": 0.55}}}}},
  {"title": "Resid", "width": 175, "height": 43, "transform": [{"filter": "datum.k == 'Resid'"}], "mark": {"type": "line", "interpolate": "monotone"},
   "encoding": {
    "x": {"field": "t", "type": "quantitative", "scale": {"domain": [2002, 2024.35], "nice": false, "zero": false}, "axis": {"values": [2002.5,2005,2007.5,2010,2012.5,2015,2017.5,2020,2022.5], "labelExpr": "datum.value % 5 == 0 ? '' + datum.value : ''", "title": null, "gridWidth": {"condition": {"test": "datum.value % 5 == 0", "value": 1.1}, "value": 0.55}}},
    "y": {"field": "v", "type": "quantitative", "scale": {"domain": [19.1, 104.9], "nice": false, "zero": false}, "axis": {"values": [25,37.5,50,62.5,75,87.5,100], "labelExpr": "datum.value % 25 == 0 ? '' + datum.value : ''", "title": null, "gridWidth": {"condition": {"test": "datum.value % 25 == 0", "value": 1.1}, "value": 0.55}}}}}
]
}
